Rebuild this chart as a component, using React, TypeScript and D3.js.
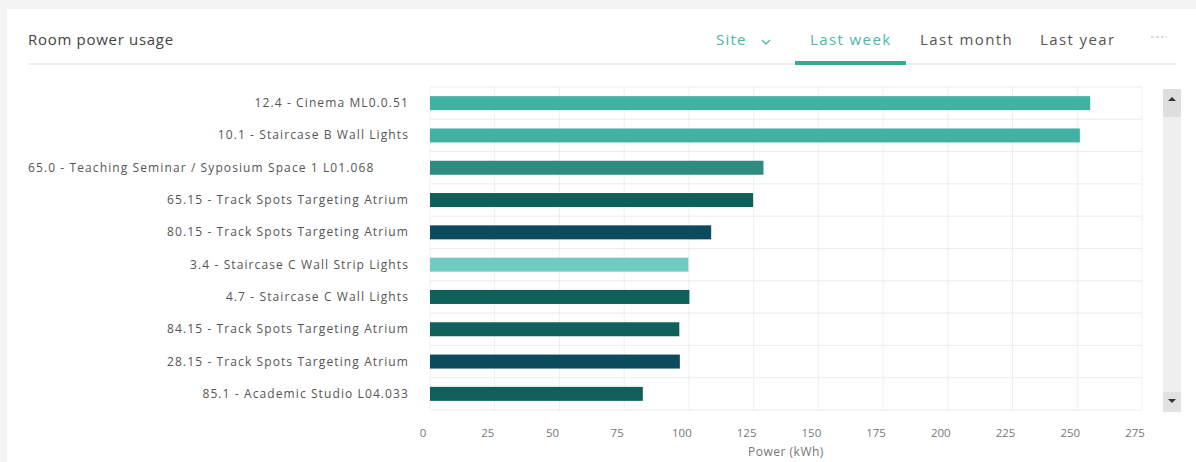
import React, { useEffect, useRef } from "react";
import * as d3 from "d3";

const categories = [
  "12.4 - Cinema ML0.0.51",
  "10.1 - Staircase B Wall Lights",
  "65.0 - Teaching Seminar / Syposium Space 1 L01.068",
  "65.15 - Track Spots Targeting Atrium",
  "80.15 - Track Spots Targeting Atrium",
  "3.4 - Staircase C Wall Strip Lights",
  "4.7 - Staircase C Wall Lights",
  "84.15 - Track Spots Targeting Atrium",
  "28.15 - Track Spots Targeting Atrium",
  "85.1 - Academic Studio L04.033",
];
const values = [255, 251, 128.8, 124.8, 108.6, 99.8, 100.2, 96.3, 96.5, 82.2];
const barColors = [
  "#43b1a1", "#43b1a1", "#2f8a7f", "#0f5f5b", "#0c4b5c",
  "#72cbc1", "#0f5f5b", "#10615c", "#0c4b5c", "#0f5f5b",
];
const xTicks = [0, 25, 50, 75, 100, 125, 150, 175, 200, 225, 250, 275];
const tabs = ["Last week", "Last month", "Last year"];

const W = 1196, H = 462;
const M = { left: 430, right: 1142, top: 87, bottom: 410 };
const FONT = "'Open Sans', sans-serif";

export default function App() {
  const ref = useRef<SVGSVGElement>(null);
  useEffect(() => {
    const svg = d3.select(ref.current);
    svg.selectAll("*").remove();
    svg.append("rect").attr("width", W).attr("height", H).attr("fill", "#f3f3f3");
    svg.append("rect").attr("x", 7).attr("y", 9).attr("width", W - 7).attr("height", H - 9).attr("fill", "#fff");

    // Header
    svg.append("text").attr("x", 28).attr("y", 45).text("Room power usage")
      .attr("font-family", FONT).attr("font-size", 15).attr("letter-spacing", 0.7).attr("fill", "#444");
    svg.append("line").attr("x1", 28).attr("x2", 1176).attr("y1", 64).attr("y2", 64)
      .attr("stroke", "#e8e8e8").attr("stroke-width", 1.5);
    svg.append("text").attr("x", 716).attr("y", 45).text("Site")
      .attr("font-family", FONT).attr("font-size", 15).attr("letter-spacing", 1.2).attr("fill", "#4db6a6");
    svg.append("path").attr("d", "M762,40 l4,4 l4,-4").attr("fill", "none")
      .attr("stroke", "#4db6a6").attr("stroke-width", 1.3);
    const tabX = [810, 920, 1040];
    tabs.forEach((t, i) => {
      svg.append("text").attr("x", tabX[i]).attr("y", 45).text(t)
        .attr("font-family", FONT).attr("font-size", 15).attr("letter-spacing", 1.4)
        .attr("fill", i === 0 ? "#4db6a6" : "#555");
    });
    svg.append("rect").attr("x", 795).attr("y", 61).attr("width", 111).attr("height", 4)
      .attr("fill", "#3aa996");
    svg.append("line").attr("x1", 1151).attr("x2", 1167).attr("y1", 37).attr("y2", 37)
      .attr("stroke", "#bbb").attr("stroke-width", 1.2).attr("stroke-dasharray", "3,2");

    const x = d3.scaleLinear().domain([0, 275]).range([M.left, M.right]);
    const y = d3.scaleBand<string>().domain(categories).range([M.top, M.bottom]).paddingInner(0);

    const g = svg.append("g");
    xTicks.forEach((t) => {
      g.append("line").attr("x1", x(t)).attr("x2", x(t)).attr("y1", M.top).attr("y2", M.bottom)
        .attr("stroke", "#efefef");
    });
    categories.forEach((c) => {
      g.append("line").attr("x1", M.left).attr("x2", M.right)
        .attr("y1", y(c)!).attr("y2", y(c)!).attr("stroke", "#ececec");
    });
    g.append("line").attr("x1", M.left).attr("x2", M.right).attr("y1", M.bottom).attr("y2", M.bottom)
      .attr("stroke", "#ececec");

    const bh = 14;
    categories.forEach((c, i) => {
      const cy = y(c)! + y.bandwidth() / 2;
      g.append("rect").attr("x", x(0)).attr("y", cy - bh / 2)
        .attr("width", x(values[i]) - x(0)).attr("height", bh).attr("fill", barColors[i]);
      const lbl = g.append("text").attr("x", 409).attr("y", cy + 4).text(c)
        .attr("text-anchor", "end").attr("font-family", FONT).attr("font-size", 12)
        .attr("letter-spacing", 1.1).attr("fill", "#555");
      const bb = (lbl.node() as SVGTextElement).getBBox();
      if (bb.x < 80) lbl.attr("x", 28).attr("text-anchor", "start");
    });

    xTicks.forEach((t) => {
      g.append("text").attr("x", x(t) - 7).attr("y", 437).text(String(t))
        .attr("text-anchor", "middle").attr("font-family", FONT).attr("font-size", 11.5)
        .attr("fill", "#777");
    });
    g.append("text").attr("x", (M.left + M.right) / 2).attr("y", 456).text("Power (kWh)")
      .attr("text-anchor", "middle").attr("font-family", FONT).attr("font-size", 12)
      .attr("letter-spacing", 0.5).attr("fill", "#777");

    // scrollbar
    const sb = svg.append("g");
    sb.append("rect").attr("x", 1163).attr("y", 89).attr("width", 18).attr("height", 323).attr("fill", "#efefef");
    sb.append("rect").attr("x", 1163).attr("y", 89).attr("width", 18).attr("height", 28).attr("fill", "#dedede");
    sb.append("rect").attr("x", 1163).attr("y", 392).attr("width", 18).attr("height", 20).attr("fill", "#e2e2e2");
    sb.append("path").attr("d", "M1168,101 l4,-4 l4,4 z").attr("fill", "#333");
    sb.append("path").attr("d", "M1168,399 l4,4 l4,-4 z").attr("fill", "#333");
  }, []);
  return <svg ref={ref} width={W} height={H} style={{ position: "absolute", left: 0, top: 0 }} />;
}
